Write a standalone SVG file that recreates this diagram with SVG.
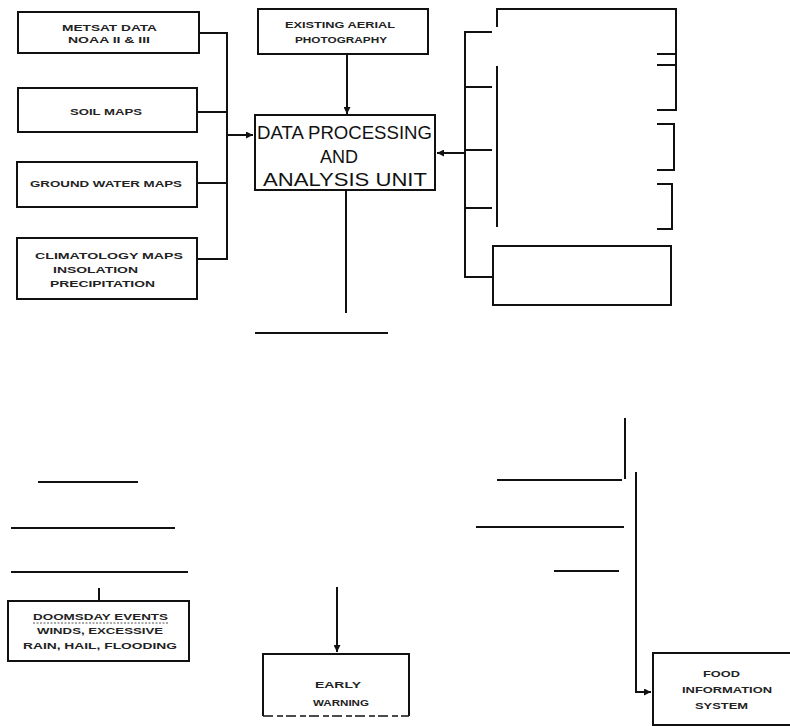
<svg xmlns="http://www.w3.org/2000/svg" width="790" height="727" viewBox="0 0 790 727">
<style>
.box{fill:#fff;stroke:#111;stroke-width:2}
.ln{fill:none;stroke:#111;stroke-width:2}
.t{font-family:"Liberation Sans",Arial,sans-serif;font-weight:bold;font-size:9px;fill:#222}
.big{font-family:"Liberation Sans",Arial,sans-serif;font-size:18px;fill:#111}
</style>
<defs>
<marker id="ah" viewBox="0 0 10 10" refX="10" refY="5" markerWidth="9" markerHeight="7" markerUnits="userSpaceOnUse" orient="auto">
<path d="M0,0 L10,5 L0,10 Z" fill="#111"/>
</marker>
</defs>
<rect width="790" height="727" fill="#fff"/>

<g id="metsat">
<rect class="box" x="18" y="12" width="181" height="41"/>
<text class="t" x="62" y="31" textLength="95" lengthAdjust="spacingAndGlyphs">METSAT DATA</text>
<text class="t" x="68" y="43" textLength="82" lengthAdjust="spacingAndGlyphs">NOAA II &amp; III</text>
</g>
<g id="soil">
<rect class="box" x="18" y="88" width="179" height="44"/>
<text class="t" x="70" y="115" textLength="72" lengthAdjust="spacingAndGlyphs">SOIL MAPS</text>
</g>
<g id="groundwater">
<rect class="box" x="17" y="162" width="180" height="45"/>
<text class="t" x="30" y="187" textLength="152" lengthAdjust="spacingAndGlyphs">GROUND WATER MAPS</text>
</g>
<g id="climatology">
<rect class="box" x="17" y="238" width="180" height="61"/>
<text class="t" x="35" y="259" textLength="148" lengthAdjust="spacingAndGlyphs">CLIMATOLOGY MAPS</text>
<text class="t" x="53" y="273" textLength="85" lengthAdjust="spacingAndGlyphs">INSOLATION</text>
<text class="t" x="50" y="287" textLength="105" lengthAdjust="spacingAndGlyphs">PRECIPITATION</text>
</g>
<g id="aerial">
<rect class="box" x="258" y="9" width="170" height="45"/>
<text class="t" x="285" y="28" textLength="110" lengthAdjust="spacingAndGlyphs">EXISTING AERIAL</text>
<text class="t" x="295" y="43" textLength="92" lengthAdjust="spacingAndGlyphs">PHOTOGRAPHY</text>
</g>
<g id="dataprocessing">
<rect class="box" x="255" y="115" width="180" height="75"/>
<text class="big" x="257" y="139" textLength="175" lengthAdjust="spacingAndGlyphs">DATA PROCESSING</text>
<text class="big" x="320" y="163">AND</text>
<text class="big" x="263" y="186" textLength="164" lengthAdjust="spacingAndGlyphs">ANALYSIS UNIT</text>
</g>
<g id="rightbox">
<rect class="box" x="493" y="246" width="178" height="59"/>
</g>
<g id="doomsday">
<rect class="box" x="8" y="601" width="181" height="60"/>
<text class="t" x="33" y="620" textLength="135" lengthAdjust="spacingAndGlyphs">DOOMSDAY EVENTS</text>
<line x1="33" y1="623" x2="168" y2="623" stroke="#555" stroke-width="1" stroke-dasharray="2,1.5"/>
<text class="t" x="37" y="634" textLength="126" lengthAdjust="spacingAndGlyphs">WINDS, EXCESSIVE</text>
<text class="t" x="23" y="649" textLength="154" lengthAdjust="spacingAndGlyphs">RAIN, HAIL, FLOODING</text>
</g>
<g id="earlywarning">
<path class="ln" d="M263,716 V654 H409 V716"/>
<line x1="263" y1="716" x2="409" y2="716" stroke="#111" stroke-width="1.5" stroke-dasharray="10,4,6,3"/>
<text class="t" x="315" y="688" textLength="46" lengthAdjust="spacingAndGlyphs">EARLY</text>
<text class="t" x="313" y="706" textLength="56" lengthAdjust="spacingAndGlyphs">WARNING</text>
</g>
<g id="food">
<path class="ln" d="M800,653 H653 V725 H800"/>
<text class="t" x="703" y="677" textLength="37" lengthAdjust="spacingAndGlyphs">FOOD</text>
<text class="t" x="682" y="693" textLength="90" lengthAdjust="spacingAndGlyphs">INFORMATION</text>
<text class="t" x="695" y="709" textLength="53" lengthAdjust="spacingAndGlyphs">SYSTEM</text>
</g>

<g id="connectors">
<path class="ln" d="M199,33 H227 V259 H197 M197,112 H227 M197,183 H227"/>
<path class="ln" d="M227,135 H253" marker-end="url(#ah)"/>
<path class="ln" d="M347,54 V114" marker-end="url(#ah)"/>
<path class="ln" d="M492,32 H465 V277 H492 M465,87 H492 M465,150 H492 M465,208 H492"/>
<path class="ln" d="M465,153 H437" marker-end="url(#ah)"/>
<path class="ln" d="M346,190 V313"/>
<path class="ln" d="M255,333 H388"/>
<path class="ln" d="M497,27 V9 H676 V110 H657 M657,54 H676 M657,65 H676"/>
<path class="ln" d="M657,124 H674 V170 H657"/>
<path class="ln" d="M657,184 H672 V229 H657"/>
<path class="ln" d="M497,66 V227"/>
<path class="ln" d="M38,482 H138 M11,528 H175 M11,572 H188 M99,588 V601"/>
<path class="ln" d="M337,587 V652" marker-end="url(#ah)"/>
<path class="ln" d="M625,418 V479 M497,480 H622 M476,527 H624 M554,571 H619"/>
<path class="ln" d="M636,472 V692 H651" marker-end="url(#ah)"/>
</g>
</svg>
